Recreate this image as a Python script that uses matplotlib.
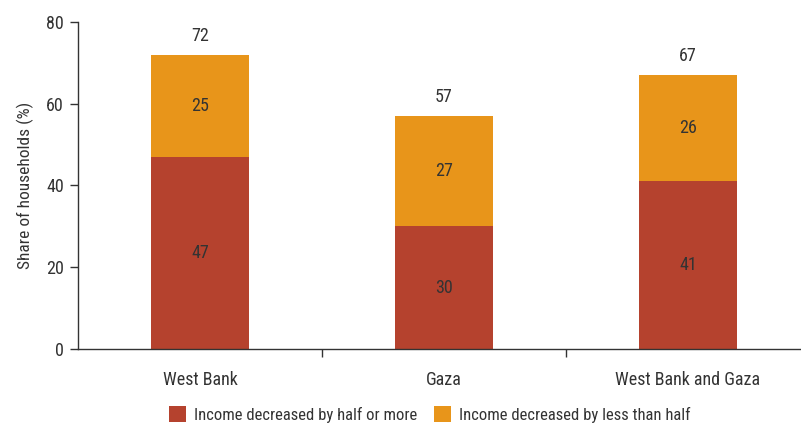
import matplotlib.pyplot as plt
import numpy as np

# Данные
regions = ['West Bank', 'Gaza', 'West Bank and Gaza']
half_or_more = [47, 30, 41]
less_than_half = [25, 27, 26]
totals = [72, 57, 67]

red = '#B5422E'
orange = '#E8951A'
text_color = '#333333'

plt.rcParams['font.family'] = ['Liberation Sans Narrow', 'Roboto Condensed', 'DejaVu Sans']
plt.rcParams['font.stretch'] = 'condensed'
plt.rcParams['text.color'] = text_color
plt.rcParams['axes.labelcolor'] = text_color
plt.rcParams['xtick.color'] = text_color
plt.rcParams['ytick.color'] = text_color

fig = plt.figure(figsize=(8.01, 4.23), dpi=100)
ax = fig.add_axes([78 / 801, 74 / 423, 723 / 801, 327 / 423])

x = np.arange(len(regions))
width = 0.40

b1 = ax.bar(x, half_or_more, width, color=red, label='Income decreased by half or more')
b2 = ax.bar(x, less_than_half, width, bottom=half_or_more, color=orange,
            label='Income decreased by less than half')

# Подписи внутри сегментов
for i in range(len(regions)):
    ax.text(x[i], half_or_more[i] / 2, str(half_or_more[i]), ha='center', va='center', fontsize=13)
    ax.text(x[i], half_or_more[i] + less_than_half[i] / 2, str(less_than_half[i]),
            ha='center', va='center', fontsize=13)
    ax.annotate(str(totals[i]), (x[i], half_or_more[i] + less_than_half[i]),
                xytext=(0, 7), textcoords='offset points', ha='center', va='bottom', fontsize=13)

ax.set_xlim(-0.5, -0.5 + 723 / 244)
ax.set_ylim(0, 80)
ax.set_yticks([0, 20, 40, 60, 80])
ax.set_xticks(x)
ax.set_xticklabels(regions)
ax.set_xticks([0.5, 1.5], minor=True)
ax.tick_params(axis='x', which='major', length=0, pad=16, labelsize=13)
ax.tick_params(axis='x', which='minor', length=6, width=1, color='#333333')
ax.tick_params(axis='y', length=6, width=1, labelsize=13, pad=4)
ax.set_ylabel('Share of households (%)', fontsize=12.5, labelpad=9)

for s in ['top', 'right']:
    ax.spines[s].set_visible(False)
for s in ['left', 'bottom']:
    ax.spines[s].set_color('#333333')
    ax.spines[s].set_linewidth(1)

fig.legend(handles=[b1, b2], loc='lower center', bbox_to_anchor=(0.537, -0.035), ncol=2,
           frameon=False, fontsize=12, handlelength=1.0, handleheight=1.1,
           handletextpad=0.5, columnspacing=1.0)

fig.savefig('out.png', dpi=100)
